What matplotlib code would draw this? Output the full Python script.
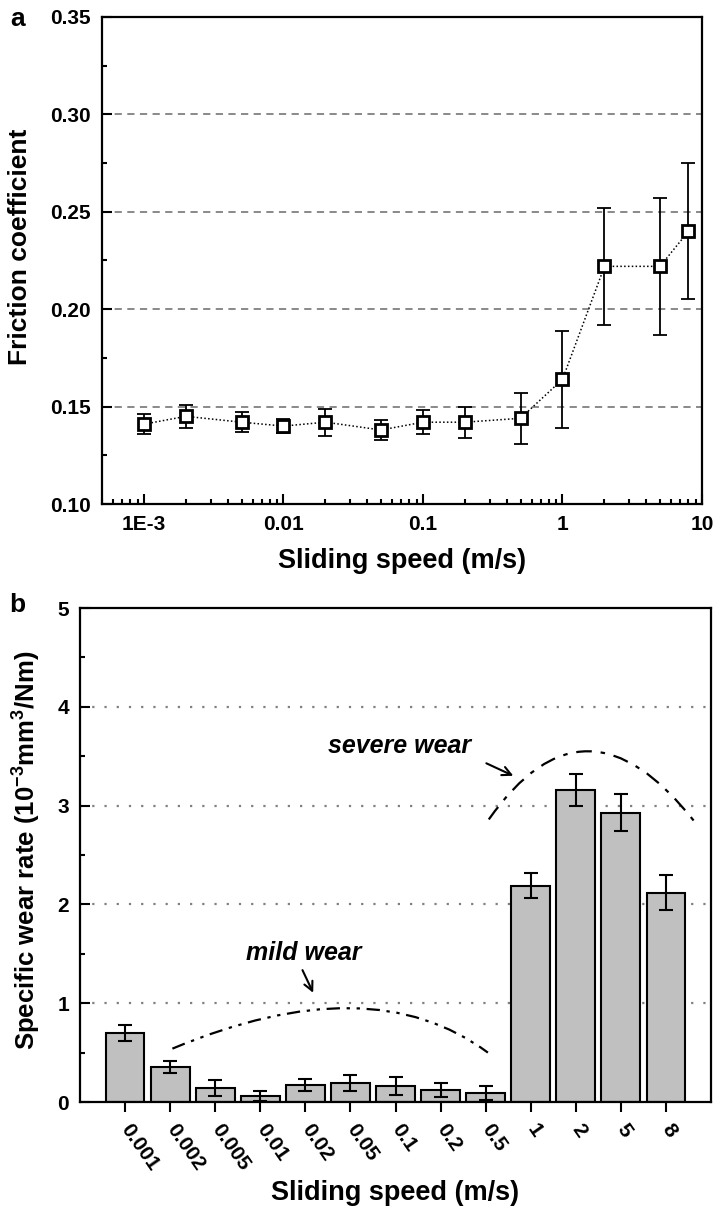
import matplotlib
matplotlib.use('Agg')
import matplotlib.pyplot as plt
from matplotlib.path import Path
from matplotlib.patches import PathPatch
from matplotlib.ticker import FixedLocator, NullFormatter, FixedFormatter

plt.rcParams['font.family'] = ['Liberation Sans', 'DejaVu Sans']
plt.rcParams['font.weight'] = 'bold'
plt.rcParams['mathtext.fontset'] = 'custom'
plt.rcParams['mathtext.rm'] = 'Liberation Sans:bold'
plt.rcParams['mathtext.it'] = 'Liberation Sans:bold'
plt.rcParams['mathtext.bf'] = 'Liberation Sans:bold'
plt.rcParams['mathtext.default'] = 'regular'

# ---------------- data ----------------
speed_a = [0.001, 0.002, 0.005, 0.01, 0.02, 0.05, 0.1, 0.2, 0.5, 1, 2, 5, 8]
friction = [0.141, 0.145, 0.142, 0.140, 0.142, 0.138, 0.142, 0.142, 0.144,
            0.164, 0.222, 0.222, 0.240]
friction_err = [0.005, 0.006, 0.005, 0.0035, 0.007, 0.005, 0.006, 0.008, 0.013,
                0.025, 0.030, 0.035, 0.035]
xticks_a = [0.001, 0.01, 0.1, 1, 10]
xticklabels_a = ['1E-3', '0.01', '0.1', '1', '10']

speed_labels = ['0.001', '0.002', '0.005', '0.01', '0.02', '0.05', '0.1',
                '0.2', '0.5', '1', '2', '5', '8']
wear = [0.70, 0.35, 0.14, 0.065, 0.175, 0.195, 0.165, 0.12, 0.09,
        2.19, 3.16, 2.93, 2.12]
wear_err = [0.08, 0.06, 0.08, 0.05, 0.06, 0.08, 0.09, 0.07, 0.07,
            0.13, 0.16, 0.19, 0.18]

# guide curves (quadratic Bezier: start, control, end) in data units
mild_curve_x = [2.05, 6.45, 9.05]
mild_curve_y = [0.54, 1.38, 0.50]
severe_curve_x = [9.07, 11.21, 13.63]
severe_curve_y = [2.86, 4.25, 2.84]

W, H = 713, 1210
fig = plt.figure(figsize=(W / 100, H / 100), dpi=100)

TICK_FS = 15
LABEL_FS = 19.5

# ---------------- panel a ----------------
axa = fig.add_axes([102 / W, 1 - 504 / H, 600 / W, 487 / H])
axa.set_xscale('log')
axa.set_xlim(5e-4, 10)
axa.set_ylim(0.10, 0.35)
for yv in [0.15, 0.20, 0.25, 0.30]:
    axa.axhline(yv, color='#808080', lw=1.3, ls=(0, (4, 3)), zorder=1)
axa.errorbar(speed_a, friction, yerr=friction_err, fmt='none', ecolor='black',
             elinewidth=1.3, capsize=5, capthick=1.3, zorder=3)
axa.plot(speed_a, friction, ls=(0, (1, 1.5)), color='black', lw=1.1,
         marker='s', ms=8.5, mfc='white', mec='black', mew=2.0, zorder=4)
axa.xaxis.set_major_locator(FixedLocator(xticks_a))
axa.xaxis.set_major_formatter(FixedFormatter(xticklabels_a))
minors = [m * 10.0 ** e for e in range(-4, 1) for m in range(2, 10)]
minors = [v for v in minors if 5e-4 <= v <= 10]
axa.xaxis.set_minor_locator(FixedLocator(minors))
axa.xaxis.set_minor_formatter(NullFormatter())
axa.yaxis.set_major_locator(FixedLocator([0.10, 0.15, 0.20, 0.25, 0.30, 0.35]))
axa.yaxis.set_major_formatter(FixedFormatter(['0.10', '0.15', '0.20', '0.25', '0.30', '0.35']))
axa.yaxis.set_minor_locator(FixedLocator([0.125, 0.175, 0.225, 0.275, 0.325]))
axa.tick_params(which='both', direction='in', labelsize=TICK_FS, width=1.5)
axa.tick_params(which='major', length=7, pad=8)
axa.tick_params(which='minor', length=3.6)
for s in axa.spines.values():
    s.set_linewidth(1.6)
axa.set_xlabel('Sliding speed (m/s)', fontsize=LABEL_FS, fontweight='bold', labelpad=10)
axa.set_ylabel('Friction coefficient', fontsize=19, fontweight='bold')
axa.yaxis.set_label_coords(-0.116, 0.528)
fig.text(18 / W, 1 - 19 / H, 'a', fontsize=19, fontweight='bold', ha='center', va='center')

# ---------------- panel b ----------------
axb = fig.add_axes([80 / W, 1 - 1102 / H, 631 / W, 494 / H])
xpos = list(range(1, len(speed_labels) + 1))
axb.set_xlim(0, 14)
axb.set_ylim(0, 5)
for yv in [1, 2, 3, 4]:
    axb.axhline(yv, color='#808080', lw=1.6, ls=(0, (1, 4.5)), zorder=1)
axb.bar(xpos, wear, width=0.86, color='#c0c0c0', edgecolor='black',
        linewidth=1.5, zorder=2)
axb.errorbar(xpos, wear, yerr=wear_err, fmt='none', ecolor='black',
             elinewidth=1.5, capsize=5, capthick=1.5, zorder=3)
axb.set_xticks(xpos)
axb.set_xticklabels(speed_labels, rotation=-55, ha='left', va='center',
                    rotation_mode='anchor', fontsize=TICK_FS)
axb.yaxis.set_major_locator(FixedLocator([0, 1, 2, 3, 4, 5]))
axb.yaxis.set_minor_locator(FixedLocator([0.5, 1.5, 2.5, 3.5, 4.5]))
axb.tick_params(axis='y', which='both', direction='in', labelsize=TICK_FS, width=1.5)
axb.tick_params(axis='y', which='major', length=7, pad=8)
axb.tick_params(axis='y', which='minor', length=3.6)
axb.tick_params(axis='x', direction='out', length=7, width=1.5, pad=10)
for s in axb.spines.values():
    s.set_linewidth(1.6)

for cx, cy, ls in [(mild_curve_x, mild_curve_y, (0, (6, 3, 1.5, 3, 1.5, 3))),
                   (severe_curve_x, severe_curve_y, (0, (7, 4, 2, 4)))]:
    path = Path(list(zip(cx, cy)), [Path.MOVETO, Path.CURVE3, Path.CURVE3])
    axb.add_patch(PathPatch(path, fill=False, edgecolor='black', lw=1.6,
                            ls=ls, zorder=4))

axb.annotate('', xy=(5.2, 1.08), xytext=(4.91, 1.36),
             arrowprops=dict(arrowstyle='->', lw=1.5, color='black',
                             mutation_scale=16))
axb.text(4.97, 1.51, 'mild wear', fontsize=18, fontweight='bold',
         style='italic', ha='center', va='center')
axb.annotate('', xy=(9.67, 3.29), xytext=(8.96, 3.44),
             arrowprops=dict(arrowstyle='->', lw=1.5, color='black',
                             mutation_scale=16))
axb.text(7.08, 3.6, 'severe wear', fontsize=18, fontweight='bold',
         style='italic', ha='center', va='center')

axb.set_xlabel('Sliding speed (m/s)', fontsize=LABEL_FS, fontweight='bold', labelpad=4)
axb.set_ylabel('Specific wear rate (10$^{-3}$mm$^{3}$/Nm)', fontsize=18.5,
               fontweight='bold')
axb.yaxis.set_label_coords(-0.058, 0.51)
fig.text(17 / W, 1 - 605 / H, 'b', fontsize=19, fontweight='bold', ha='center', va='center')

fig.savefig('out.png', dpi=100)
